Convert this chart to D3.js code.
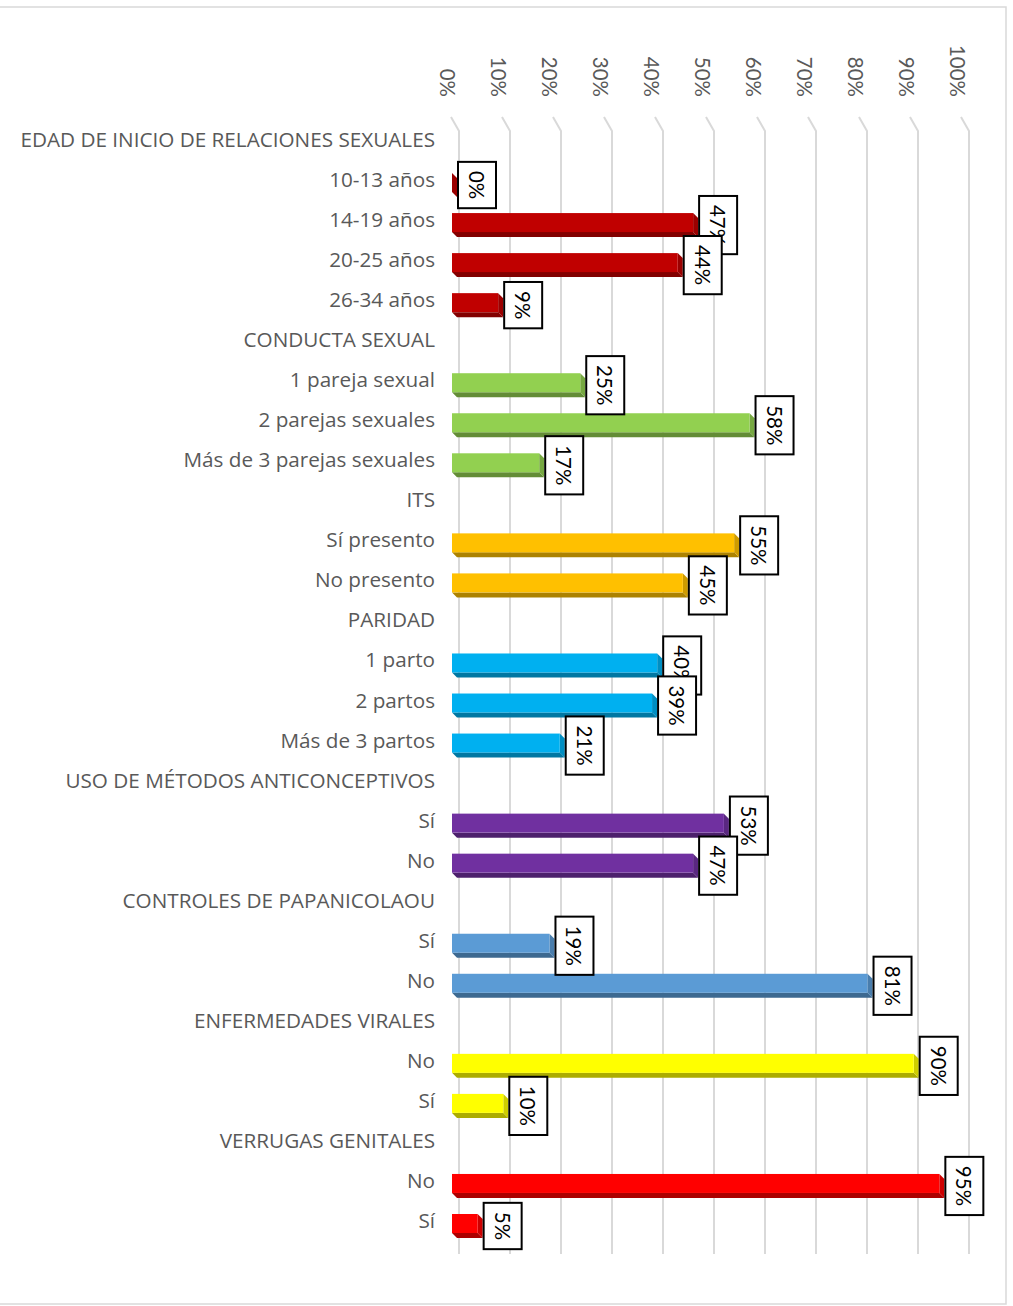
<!DOCTYPE html>
<html>
<head>
<meta charset="utf-8">
<script src="https://cdn.jsdelivr.net/npm/d3@7"></script>
<style>
  body { margin: 0; background: #fff; }
  svg { display: block; }
  text { font-family: Lato, "Open Sans", sans-serif; }
</style>
</head>
<body>
<div id="chart"></div>
<script>
// rows top to bottom; null value = group heading
const rowLabels = [
    "EDAD DE INICIO DE RELACIONES SEXUALES", "10-13 años", "14-19 años", "20-25 años", "26-34 años",
    "CONDUCTA SEXUAL", "1 pareja sexual", "2 parejas sexuales", "Más de 3 parejas sexuales",
    "ITS", "Sí presento", "No presento",
    "PARIDAD", "1 parto", "2 partos", "Más de 3 partos",
    "USO DE MÉTODOS ANTICONCEPTIVOS", "Sí", "No",
    "CONTROLES DE PAPANICOLAOU", "Sí", "No",
    "ENFERMEDADES VIRALES", "No", "Sí",
    "VERRUGAS GENITALES", "No", "Sí"
];
const values = [
    null, 0, 47, 44, 9,
    null, 25, 58, 17,
    null, 55, 45,
    null, 40, 39, 21,
    null, 53, 47,
    null, 19, 81,
    null, 90, 10,
    null, 95, 5
];
const tickValues = [0, 10, 20, 30, 40, 50, 60, 70, 80, 90, 100];
const groupColors = ["#C00000", "#92D050", "#FFC000", "#00B0F0", "#7030A0", "#5B9BD5", "#FFFF00", "#FF0000"];

const width = 1013, height = 1306;
const svg = d3.select("#chart").append("svg")
    .attr("width", width)
    .attr("height", height);

// outer frame
svg.append("rect")
    .attr("x", -2).attr("y", 7)
    .attr("width", 1008).attr("height", 1297)
    .attr("fill", "none")
    .attr("stroke", "#d9d9d9")
    .attr("stroke-width", 1.5);

const rowIdx = d3.range(rowLabels.length);
const y = d3.scalePoint().domain(rowIdx).range([139, 1220]);
const xBack = d3.scaleLinear().domain([0, 100]).range([459, 969]);
const xFront = d3.scaleLinear().domain([0, 100]).range([452, 965]);

// group index per row
let g = -1;
const rowGroup = values.map(v => { if (v === null) g++; return g; });

// gridlines with slanted top (3D floor edge)
tickValues.forEach(t => {
    const gx = xBack(t);
    svg.append("path")
        .attr("d", `M${gx - 8},117 L${gx},131 L${gx},1254`)
        .attr("fill", "none")
        .attr("stroke", "#d9d9d9")
        .attr("stroke-width", 2);
    svg.append("text")
        .attr("transform", `translate(${gx - 11},97) rotate(90)`)
        .attr("text-anchor", "end")
        .attr("dominant-baseline", "central")
        .attr("fill", "#595959")
        .attr("font-size", "20.5px")
        .text(t + "%");
});

// category labels
svg.selectAll(".cat")
    .data(rowIdx)
    .join("text")
    .attr("class", "cat")
    .attr("x", 435)
    .attr("y", i => y(i))
    .attr("text-anchor", "end")
    .attr("dominant-baseline", "central")
    .attr("fill", "#595959")
    .style("font-family", "'Open Sans', sans-serif")
    .attr("font-size", "20.7px")
    .text(i => rowLabels[i]);

// 3D bars
const barH = 19, depth = 5;
const bars = rowIdx.filter(i => values[i] !== null);

bars.forEach(i => {
    const c = d3.color(groupColors[rowGroup[i]]);
    const x0 = xFront(0), x1 = xFront(values[i]);
    const y0 = y(i) - 6, y1 = y0 + barH;
    // bottom face
    svg.append("path")
        .attr("d", `M${x0},${y1} L${x1},${y1} L${x1 + depth},${y1 + depth} L${x0 + depth},${y1 + depth} Z`)
        .attr("fill", c.darker(1.1));
    // end face
    svg.append("path")
        .attr("d", `M${x1},${y0} L${x1 + depth},${y0 + depth} L${x1 + depth},${y1 + depth} L${x1},${y1} Z`)
        .attr("fill", c.darker(0.6));
    // front face
    svg.append("rect")
        .attr("x", x0).attr("y", y0)
        .attr("width", x1 - x0).attr("height", barH)
        .attr("fill", c);
});

// data labels in boxes, drawn in row order so later ones overlap
bars.forEach(i => {
    const cy = y(i) - 6 + (barH + depth) / 2;
    const bx = xFront(values[i]) + 6;
    const lbl = svg.append("g");
    const box = lbl.append("rect");
    const txt = lbl.append("text")
        .attr("transform", `translate(${bx + 19},${cy}) rotate(90)`)
        .attr("text-anchor", "middle")
        .attr("dominant-baseline", "central")
        .attr("fill", "#000")
        .attr("font-size", "20.5px")
        .text(values[i] + "%");
    const len = txt.node().getComputedTextLength();
    box.attr("x", bx).attr("y", cy - len / 2 - 9)
        .attr("width", 38).attr("height", len + 18)
        .attr("fill", "#fff")
        .attr("stroke", "#000")
        .attr("stroke-width", 2);
});
</script>
</body>
</html>
